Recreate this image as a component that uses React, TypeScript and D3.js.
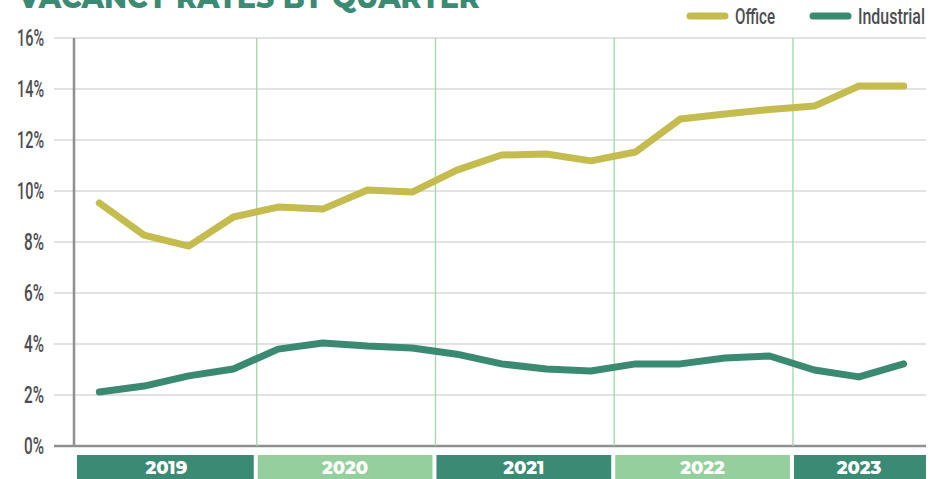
import React from 'react';
import * as d3 from 'd3';

const quarters = [
  '2019Q1', '2019Q2', '2019Q3', '2019Q4',
  '2020Q1', '2020Q2', '2020Q3', '2020Q4',
  '2021Q1', '2021Q2', '2021Q3', '2021Q4',
  '2022Q1', '2022Q2', '2022Q3', '2022Q4',
  '2023Q1', '2023Q2', '2023Q3',
];
const office = [9.53, 8.27, 7.84, 8.98, 9.37, 9.29, 10.04, 9.96, 10.82, 11.41, 11.45, 11.18, 11.53, 12.82, 13.02, 13.2, 13.33, 14.12, 14.12];
const industrial = [2.12, 2.35, 2.75, 3.02, 3.8, 4.04, 3.92, 3.84, 3.6, 3.22, 3.02, 2.94, 3.22, 3.22, 3.45, 3.53, 2.98, 2.71, 3.22];
const years = ['2019', '2020', '2021', '2022', '2023'];
const yTicks = [0, 2, 4, 6, 8, 10, 12, 14, 16];

const OFFICE = '#c4bc4f';
const INDUSTRIAL = '#3a8a72';
const BAND_DARK = '#3b8a73';
const BAND_LIGHT = '#95cf9d';
const narrow = 'Roboto, sans-serif';

export default function App() {
  const width = 950;
  const height = 479;
  const margin = { top: 38, bottom: 446, left: 77, right: 926 };

  const x = d3.scaleBand().domain(quarters).range([margin.left, margin.right]);
  const y = d3.scaleLinear().domain([0, 16]).range([margin.bottom, margin.top]);

  const cx = (q: string) => (x(q) as number) + x.bandwidth() / 2;
  const line = d3.line<number>()
    .x((d, i) => cx(quarters[i]))
    .y(d => y(d));

  // year bounds from the quarters in each year
  const yearSpan = years.map(yr => {
    const qs = quarters.filter(q => q.startsWith(yr));
    const x0 = x(qs[0]) as number;
    const x1 = (x(qs[qs.length - 1]) as number) + x.bandwidth();
    return { yr, x0, x1 };
  });

  return (
    <svg width={width} height={height} style={{ position: 'absolute', left: 0, top: 0 }}>
      <text x={18} y={8} fill="#3b8a73" fontFamily="Montserrat, 'Open Sans', sans-serif"
        fontWeight={800} fontSize={31} textLength={462} lengthAdjust="spacingAndGlyphs">
        VACANCY RATES BY QUARTER
      </text>

      {/* legend */}
      <line x1={690} x2={725} y1={16} y2={16} stroke={OFFICE} strokeWidth={7} strokeLinecap="round" />
      <text x={735} y={24} fontFamily={narrow} fontWeight={500} fontSize={22} fill="#4d4d4f"
        textLength={40} lengthAdjust="spacingAndGlyphs">Office</text>
      <line x1={813} x2={848} y1={16} y2={16} stroke={INDUSTRIAL} strokeWidth={7} strokeLinecap="round" />
      <text x={858} y={24} fontFamily={narrow} fontWeight={500} fontSize={22} fill="#4d4d4f"
        textLength={67} lengthAdjust="spacingAndGlyphs">Industrial</text>

      {/* grid + y labels */}
      {yTicks.map(t => (
        <g key={t}>
          <line x1={54} x2={margin.right} y1={y(t)} y2={y(t)}
            stroke={t === 0 ? '#8e8e93' : '#d9d9d9'} strokeWidth={t === 0 ? 2.5 : 1.3} />
          <text x={44} y={y(t) + 8} textAnchor="end" fontFamily={narrow} fontWeight={500} fontSize={23}
            fill="#4d4d4f" textLength={t >= 10 ? 27 : 20} lengthAdjust="spacingAndGlyphs">{t}%</text>
        </g>
      ))}

      {/* year separators */}
      {yearSpan.slice(1).map(s => (
        <line key={s.yr} x1={s.x0 + 1} x2={s.x0 + 1} y1={margin.top} y2={margin.bottom}
          stroke="#9fd8a6" strokeWidth={1.3} />
      ))}

      <line x1={74} x2={74} y1={margin.top} y2={margin.bottom + 1} stroke="#8e8e93" strokeWidth={2.5} />

      <path d={line(office) || ''} fill="none" stroke={OFFICE} strokeWidth={7}
        strokeLinejoin="round" strokeLinecap="round" />
      <path d={line(industrial) || ''} fill="none" stroke={INDUSTRIAL} strokeWidth={7}
        strokeLinejoin="round" strokeLinecap="round" />

      {/* year bands */}
      {yearSpan.map((s, i) => (
        <g key={s.yr}>
          <rect x={s.x0 + (i === 0 ? 0 : 2)} y={455} width={s.x1 - s.x0 - (i === 0 ? 2 : 4) + (i === years.length - 1 ? 2 : 0)}
            height={24} fill={i % 2 === 0 ? BAND_DARK : BAND_LIGHT} />
          <text x={(s.x0 + s.x1) / 2} y={474} textAnchor="middle" fill="#fff"
            fontFamily="Montserrat, 'Open Sans', sans-serif" fontWeight={800} fontSize={18}>
            {s.yr}
          </text>
        </g>
      ))}
    </svg>
  );
}
